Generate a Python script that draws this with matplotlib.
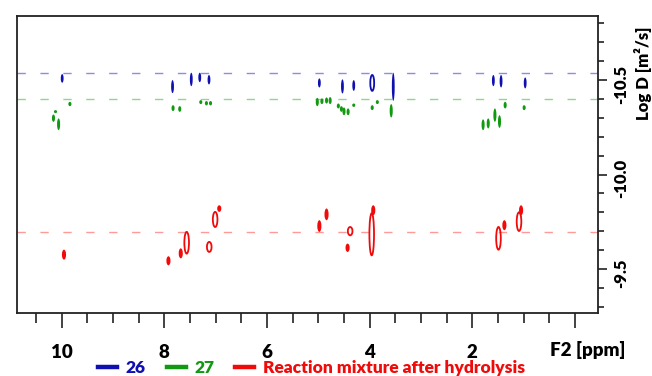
import matplotlib
matplotlib.use("Agg")
import matplotlib.pyplot as plt
import matplotlib.transforms as mtransforms
from matplotlib.patches import Ellipse
from matplotlib.lines import Line2D
from matplotlib.ticker import FixedLocator, MultipleLocator

# ---------------- data ----------------
series_names = ["26", "27", "Reaction mixture after hydrolysis"]
series_logD = [-10.537, -10.399, -9.694]          # dashed reference lines

blue_ppm = [9.99, 7.84, 7.475, 7.31, 7.13, 4.98, 4.53, 4.31, 3.95, 3.54, 1.59, 1.44, 0.97]
blue_top = [-10.532, -10.500, -10.539, -10.539, -10.527, -10.509, -10.504, -10.500,
            -10.527, -10.539, -10.527, -10.527, -10.514]
blue_bot = [-10.486, -10.431, -10.468, -10.489, -10.477, -10.461, -10.429, -10.443,
            -10.443, -10.390, -10.468, -10.461, -10.456]
blue_open = [8]

green_ppm = [10.12, 10.16, 10.06, 9.84, 7.83, 7.70, 7.29, 7.18, 7.10, 5.02, 4.93, 4.84,
             4.77, 4.61, 4.55, 4.50, 4.42, 4.31, 3.95, 3.85, 3.58, 1.79, 1.69, 1.56,
             1.47, 1.36, 0.99]
green_top = [-10.341, -10.318, -10.297, -10.385, -10.367, -10.362, -10.394, -10.389,
             -10.389, -10.406, -10.403, -10.408, -10.410, -10.376, -10.362, -10.355,
             -10.350, -10.376, -10.367, -10.394, -10.373, -10.292, -10.297, -10.350,
             -10.314, -10.385, -10.367]
green_bot = [-10.325, -10.279, -10.235, -10.362, -10.336, -10.332, -10.373, -10.366,
             -10.366, -10.362, -10.373, -10.376, -10.373, -10.350, -10.332, -10.314,
             -10.314, -10.358, -10.341, -10.373, -10.302, -10.235, -10.244, -10.279,
             -10.247, -10.350, -10.341]
green_open = []

red_ppm = [9.955, 7.92, 7.68, 7.565, 7.125, 7.01, 6.93, 4.98, 4.84, 4.38, 4.43, 3.96,
           3.93, 1.49, 1.375, 1.09, 1.05]
red_top = [-9.602, -9.567, -9.609, -9.696, -9.643, -9.802, -9.837, -9.758, -9.820,
           -9.722, -9.634, -9.795, -9.837, -9.722, -9.758, -9.800, -9.837]
red_bot = [-9.549, -9.519, -9.556, -9.581, -9.590, -9.722, -9.802, -9.696, -9.758,
           -9.678, -9.590, -9.572, -9.784, -9.602, -9.705, -9.701, -9.784]
red_open = [3, 4, 5, 9, 11, 13, 15]

x_major = [10, 8, 6, 4, 2, 0]
x_major_labels = ["10", "8", "6", "4", "2", ""]
y_major = [-10.5, -10.0, -9.5]
y_major_labels = ["-10.5", "-10.0", "-9.5"]

# ---------------- styling ----------------
plt.rcParams["font.family"] = ["Lato", "DejaVu Sans"]
plt.rcParams["font.weight"] = "heavy"

peak_colors = ["#1010b0", "#119a11", "#f00a0a"]
line_colors = ["#8c8ce8", "#8ed88e", "#ff9a9a"]

fig = plt.figure(figsize=(6.52, 3.76), dpi=100)
ax = fig.add_axes([0.0265, 0.1668, 0.8911, 0.7914])

ax.set_xlim(10.865, -0.454)
ax.set_ylim(-9.265, -10.841)

for y, c in zip(series_logD, line_colors):
    ax.axhline(y, color=c, lw=1.0, dashes=(6, 10.5), zorder=1)


def draw_peaks(ppm, top, bot, open_idx, color, w_fill, w_open):
    for i, (x, t, b) in enumerate(zip(ppm, top, bot)):
        h = abs(b - t)
        yc = (t + b) / 2
        if i in open_idx:
            e = Ellipse((x, yc), w_open, h, facecolor="none", edgecolor=color,
                        lw=1.3, zorder=3)
        else:
            e = Ellipse((x, yc), w_fill, h, facecolor=color, edgecolor="none",
                        zorder=3)
        ax.add_patch(e)


draw_peaks(blue_ppm, blue_top, blue_bot, blue_open, peak_colors[0], 0.055, 0.075)
draw_peaks(green_ppm, green_top, green_bot, green_open, peak_colors[1], 0.06, 0.08)
draw_peaks(red_ppm, red_top, red_bot, red_open, peak_colors[2], 0.08, 0.09)

# spines
for s in ax.spines.values():
    s.set_color("#222222")
    s.set_linewidth(1.3)

# x axis
ax.xaxis.set_major_locator(FixedLocator(x_major))
ax.set_xticklabels(x_major_labels)
ax.xaxis.set_minor_locator(MultipleLocator(0.5))
ax.tick_params(axis="x", which="major", length=11, width=1.2, color="#222222",
               labelsize=13.5, pad=11)
ax.tick_params(axis="x", which="minor", length=7, width=1.2, color="#222222")
ax.text(0.982, -0.123, "F2 [ppm]", transform=ax.transAxes, ha="center",
        va="center", fontsize=13.5, fontweight="heavy")

# y axis (right)
ax.yaxis.tick_right()
ax.yaxis.set_major_locator(FixedLocator(y_major))
ax.set_yticklabels(y_major_labels, rotation=90, va="center")
ax.yaxis.set_minor_locator(MultipleLocator(0.1))
ax.tick_params(axis="y", which="major", length=6.5, width=1.2, color="#222222",
               labelsize=12, pad=4.5, left=False, right=True)
ax.tick_params(axis="y", which="minor", length=4.5, width=1.2, color="#222222",
               left=False, right=True)
shift = mtransforms.ScaledTranslation(0, -3 / 72, fig.dpi_scale_trans)
for lab in ax.get_yticklabels():
    lab.set_transform(lab.get_transform() + shift)
ax.text(1.077, 0.8075, "Log D [m²/s]", transform=ax.transAxes, rotation=90,
        ha="center", va="center", fontsize=12, fontweight="heavy")

# legend
handles = [Line2D([0], [0], color=c, lw=3.2) for c in peak_colors]
leg = fig.legend(handles, series_names, loc="center", bbox_to_anchor=(0.478, 0.022),
                 ncol=3, frameon=False, handlelength=1.1,
                 handletextpad=0.5, columnspacing=1.2, labelcolor=peak_colors,
                 prop={"weight": "heavy", "size": 12.5})

fig.savefig("out.png", dpi=100)
